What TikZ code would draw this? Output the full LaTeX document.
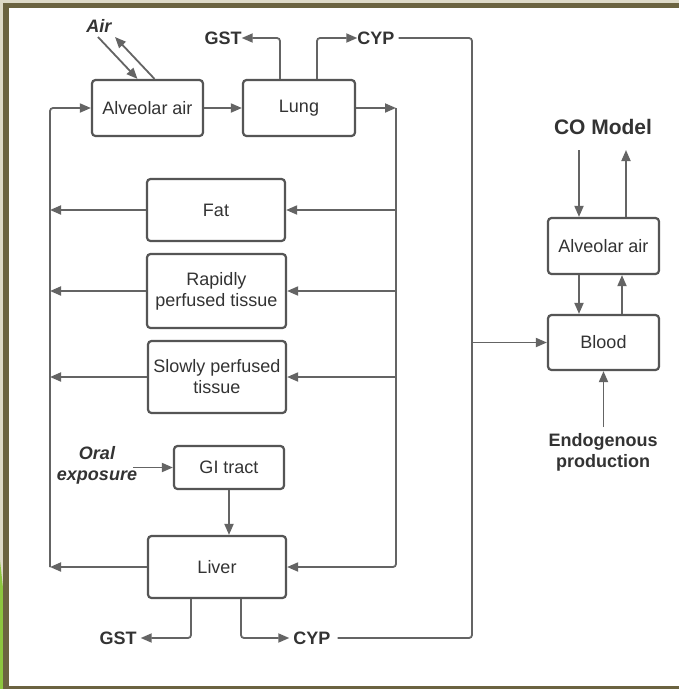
\documentclass[tikz,border=0pt]{standalone}
\usepackage{fontspec}
\setmainfont{Liberation Sans}
\usetikzlibrary{arrows.meta}
\definecolor{frameol}{RGB}{107,99,64}
\definecolor{outbg}{RGB}{222,218,200}
\definecolor{leafgreen}{RGB}{141,198,63}
\definecolor{linegray}{RGB}{100,100,100}
\definecolor{boxgray}{RGB}{85,85,85}
\definecolor{txtgray}{RGB}{51,51,51}
\tikzset{
  box/.style={draw=boxgray, line width=2.2pt, rounded corners=3.5pt, fill=white,
    inner sep=0pt, align=center, text=txtgray,
    font=\fontsize{18}{21}\selectfont},
  lbl/.style={inner sep=0pt, align=center, text=txtgray,
    font=\fontsize{18}{21}\selectfont\bfseries},
  conn/.style={draw=linegray, line width=1.8pt, rounded corners=3pt},
  arr/.style={conn, -{Triangle[length=11pt,width=9pt]}},
}
\begin{document}
\begin{tikzpicture}[x=1pt,y=-1pt]
\useasboundingbox (0,0) rectangle (679,689);
% background and frame
\fill[outbg] (0,0) rectangle (679,689);
\fill[white] (9,8) rectangle (679,686);
\fill[leafgreen] (0,560) -- (3,588) -- (3,689) -- (0,689) -- cycle;
\fill[frameol] (3,3) rectangle (679,8);
\fill[frameol] (3,3) rectangle (9,689);
\fill[frameol] (3,686) rectangle (679,689);

% boxes
\node[box, minimum width=111pt, minimum height=56pt] (alvL) at (147.5,108) {Alveolar air};
\node[box, minimum width=112pt, minimum height=56pt] (lung) at (299,108) {Lung};
\node[box, minimum width=138pt, minimum height=62pt] (fat) at (216,210) {Fat};
\node[box, minimum width=139pt, minimum height=74pt] (rapid) at (216.5,291) {Rapidly\\perfused tissue};
\node[box, minimum width=138pt, minimum height=72pt] (slow) at (217,377) {Slowly perfused\\tissue};
\node[box, minimum width=110pt, minimum height=43pt] (gi) at (229,467.5) {GI tract};
\node[box, minimum width=138pt, minimum height=62pt] (liver) at (217,567) {Liver};
\node[box, minimum width=111pt, minimum height=56pt] (alvR) at (603.5,246) {Alveolar air};
\node[box, minimum width=111pt, minimum height=55pt] (blood) at (603.5,342.5) {Blood};

% labels
\node[lbl, font=\fontsize{18}{21}\selectfont\bfseries\itshape] (air) at (99,26) {Air};
\node[lbl] (gstT) at (223,38) {GST};
\node[lbl] (cypT) at (376,38) {CYP};
\node[lbl] (gstB) at (118,638) {GST};
\node[lbl] (cypB) at (312,638) {CYP};
\node[lbl, font=\fontsize{18}{21}\selectfont\bfseries\itshape] (oral) at (97,465) {Oral\\exposure};
\node[lbl, font=\fontsize{21}{24}\selectfont\bfseries] (co) at (603,127) {CO Model};
\node[lbl] (endo) at (603,452) {Endogenous\\production};

% coordinates
\coordinate (rTop) at (396,108);
\coordinate (rBot) at (396,567);
\coordinate (lTop) at (50,108);
\coordinate (lBot) at (50,567);
\coordinate (farTop) at (472,38);
\coordinate (farBot) at (472,638);
\coordinate (airIn) at (98,37);
\coordinate (airOut) at (115,37);
\coordinate (oralEnd) at (133,467.5);
\coordinate (coIn) at (579,150);
\coordinate (coOut) at (626,150);
\coordinate (endoTop) at (603.5,427);

% left-hand network
\draw[arr] (alvL.east) -- (lung.west);
\draw[arr] (lung.east) -- (rTop);
\draw[arr] (rTop) -- (rBot) -- (liver.east);
\draw[arr] (rTop |- fat.east) -- (fat.east);
\draw[arr] (rTop |- rapid.east) -- (rapid.east);
\draw[arr] (rTop |- slow.east) -- (slow.east);
\draw[arr] (fat.west) -- (lTop |- fat.west);
\draw[arr] (rapid.west) -- (lTop |- rapid.west);
\draw[arr] (slow.west) -- (lTop |- slow.west);
\draw[arr] (liver.west) -- (lBot);
\draw[arr] (lBot) -- (lTop) -- (alvL.west);

% air exchange
\draw[arr] (airIn) -- ([xshift=-10pt]alvL.north);
\draw[arr] ([xshift=7pt]alvL.north) -- (airOut);

% lung metabolism
\draw[arr] ([xshift=-19pt]lung.north) |- (gstT.east);
\draw[arr] ([xshift=18pt]lung.north) |- (cypT.west);
\draw[conn] ([xshift=4pt]cypT.east) -- (farTop) -- (farBot) -- ([xshift=7pt]cypB.east);
\draw[arr] (farTop |- blood.west) -- (blood.west);

% GI and liver
\draw[arr] (oralEnd) -- (gi.west);
\draw[arr] (gi.south) -- (gi.south |- liver.north);
\draw[arr] ([xshift=-26pt]liver.south) |- ([xshift=4pt]gstB.east);
\draw[arr] ([xshift=24pt]liver.south) |- ([xshift=-4pt]cypB.west);

% CO model
\draw[arr] (coIn) -- (coIn |- alvR.north);
\draw[arr] (coOut |- alvR.north) -- (coOut);
\draw[arr] ([xshift=-24.5pt]alvR.south) -- ([xshift=-24.5pt]blood.north);
\draw[arr] ([xshift=18.5pt]blood.north) -- ([xshift=18.5pt]alvR.south);
\draw[arr] (endoTop) -- (blood.south);
\end{tikzpicture}
\end{document}
